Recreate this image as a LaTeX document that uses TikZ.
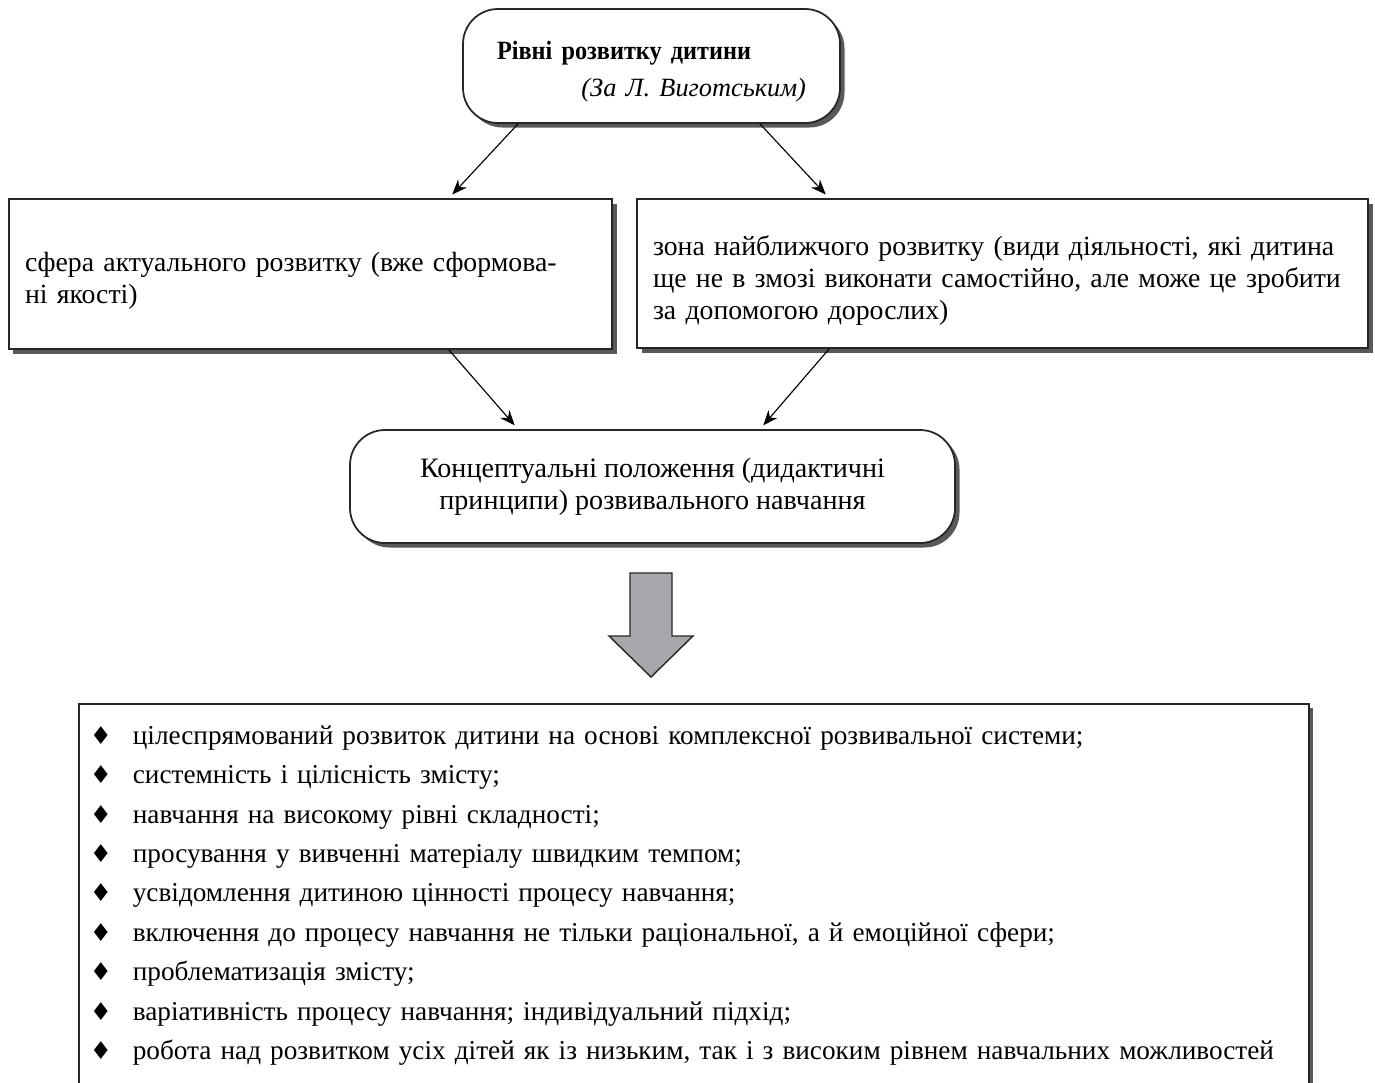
\documentclass[tikz,border=0pt]{standalone}
\usepackage{fontspec}
\setmainfont{Liberation Serif}
\newfontfamily\titlefont[FakeStretch=0.92]{Liberation Serif}
\newfontfamily\symfont{DejaVu Sans}
\usetikzlibrary{arrows.meta, shadows}

\definecolor{arrowgray}{HTML}{A7A8AB}
\newcommand{\bul}{\makebox[0.86cm][l]{\symfont\fontsize{14}{14}\selectfont ♦}}

\begin{document}
\begin{tikzpicture}[font=\fontsize{15.8}{18.1}\selectfont,box/.style={draw=black!85,line width=1pt,fill=white,drop shadow={shadow xshift=0.09cm,shadow yshift=-0.09cm,fill=black!65,opacity=1},align=left,inner xsep=0.32cm},roundbox/.style={box,rounded corners=0.7cm,align=center},arrow/.style={line width=0.65pt,-{Stealth[length=3mm,width=2.4mm]},shorten >=0.1cm},bigarrow/.style={draw=black!85,line width=0.8pt,fill=arrowgray}]
\useasboundingbox (0,0) rectangle (27.5,-21.64);
\clip (0,0) rectangle (27.5,-21.64);
\node[roundbox, minimum width=7.54cm, minimum height=2.28cm, text width=6.18cm, align=left] (levels) at (13.03,-1.32) {\rule{0pt}{17pt}{\titlefont\fontsize{15}{17}\selectfont\bfseries Рівні розвитку дитини}\\[3pt]\hfill{\fontsize{15}{18}\itshape (За Л. Виготським)}};
\node[box, text width=11.42cm, minimum height=3cm] (actual) at (6.21,-5.48) {\rule{0pt}{19pt}сфера актуального розвитку (вже сформова-\\ні якості)};
\node[box, text width=13.98cm, minimum height=2.98cm] (nearest) at (20.05,-5.47) {\rule{0pt}{19pt}зона найближчого розвитку (види діяльності, які дитина\\ще не в змозі виконати самостійно, але може це зробити\\за допомогою дорослих)};
\node[roundbox, minimum width=12.1cm, minimum height=2.26cm, font=\fontsize{16}{18.4}\selectfont] (principles) at (13.05,-9.73) {Концептуальні положення (дидактичні\\принципи) розвивального навчання};
\draw[arrow] ([xshift=-2.67cm]levels.south) -- ([xshift=-3.28cm]actual.north east);
\draw[arrow] ([xshift=2.17cm]levels.south) -- ([xshift=3.86cm]nearest.north west);
\draw[arrow] ([xshift=-3.28cm]actual.south east) -- ([xshift=-2.69cm]principles.north);
\draw[arrow] ([xshift=3.86cm]nearest.south west) -- ([xshift=2.15cm]principles.north);
% big arrow down to the list
\draw[bigarrow] (12.6,-11.46) -- (13.44,-11.46) -- (13.44,-12.72) -- (13.86,-12.72) -- (13.02,-13.54) -- (12.18,-12.72) -- (12.6,-12.72) -- cycle;
\node[box, anchor=north west, text width=24.16cm, inner xsep=0.22cm, inner ysep=0.44cm, font=\fontsize{15.5}{22.4}\selectfont] (list) at (1.56,-14.06) {\bul цілеспрямований розвиток дитини на основі комплексної розвивальної системи;\\
\bul системність і цілісність змісту;\\
\bul навчання на високому рівні складності;\\
\bul просування у вивченні матеріалу швидким темпом;\\
\bul усвідомлення дитиною цінності процесу навчання;\\
\bul включення до процесу навчання не тільки раціональної, а й емоційної сфери;\\
\bul проблематизація змісту;\\
\bul варіативність процесу навчання; індивідуальний підхід;\\
\bul робота над розвитком усіх дітей як із низьким, так і з високим рівнем навчальних можливостей\strut};
\end{tikzpicture}
\end{document}
